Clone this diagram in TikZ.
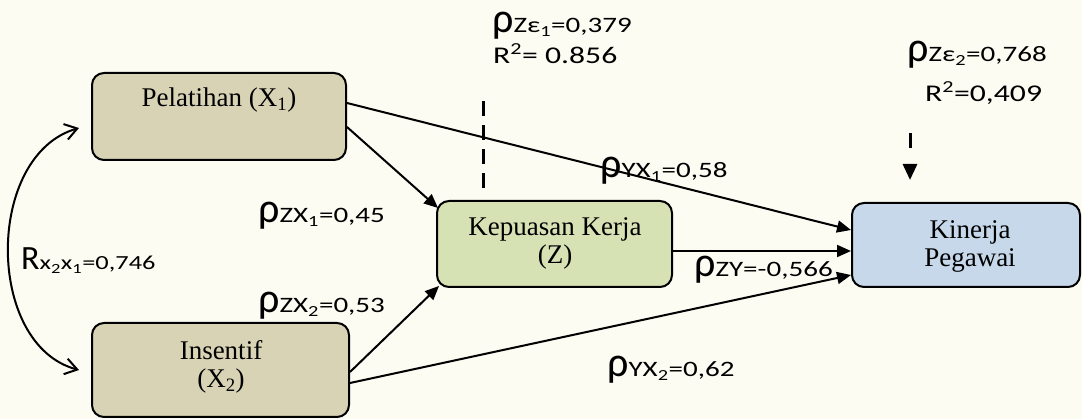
\documentclass[tikz,border=0pt]{standalone}
\usepackage{fontspec}
\setmainfont{Liberation Serif}
\newfontfamily\lblfont[FakeStretch=1.32]{Carlito}
\newfontfamily\grkfont{Carlito}
\usetikzlibrary{arrows.meta,calc}

\definecolor{bgcream}{RGB}{252,252,243}
\definecolor{tanbox}{RGB}{216,211,181}
\definecolor{olivebox}{RGB}{215,226,180}
\definecolor{bluebox}{RGB}{198,216,234}

% path coefficient: large rho followed by the index and value
\newcommand\rholabel[1]{{\grkfont\fontsize{42}{42}\selectfont ρ}{\lblfont\fontsize{22}{26}\selectfont #1}}

\begin{document}
\begin{tikzpicture}[x=1pt,y=-1pt,
  varbox/.style={draw=black, line width=2pt, rounded corners=12pt, inner sep=0pt},
  boxtext/.style={font=\fontsize{27}{28}\selectfont, inner sep=0pt, align=center},
  effect/.style={line width=2pt, -{Triangle[length=14pt,width=12pt]}},
  coef/.style={anchor=base west, inner sep=0pt},
  errline/.style={line width=3pt, dash pattern=on 15pt off 9pt},
]
\fill[bgcream] (0,0) rectangle (1082,419);
\useasboundingbox (0,0) rectangle (1082,419);

% variables
\node[varbox, fill=tanbox, minimum width=254pt, minimum height=87pt] (pel) at (219,116.5) {};
\node[varbox, fill=tanbox, minimum width=257pt, minimum height=94pt] (ins) at (220.5,370) {};
\node[varbox, fill=olivebox, minimum width=235pt, minimum height=86pt] (kep) at (554.5,244) {};
\node[varbox, fill=bluebox, minimum width=228pt, minimum height=84pt] (kin) at (966,245) {};

% names of the variables (two-line texts are placed by their last baseline)
\node[boxtext, anchor=base] (pelT) at (219,107) {Pelatihan (X\textsubscript{1})};
\node[boxtext, anchor=base] (insT) at (221,388) {Insentif\\(X\textsubscript{2})};
\node[boxtext, anchor=base] (kepT) at (555,264) {Kepuasan Kerja\\(Z)};
\node[boxtext, anchor=base] (kinT) at (970,267) {Kinerja\\Pegawai};

% direct and indirect effects
\draw[effect] ([yshift=13.5pt]pel.east) -- ([yshift=15pt]kin.west);
\draw[effect] ([yshift=-10.5pt]pel.east) -- ([shift={(2pt,-8pt)}]kep.north west);
\draw[effect] ([yshift=-2pt]ins.east) -- ([shift={(3pt,2pt)}]kep.south west);
\draw[effect] ([yshift=-13pt]ins.east) -- ([yshift=-30pt]kin.west);
\draw[effect] ([yshift=-7pt]kep.east) -- ([yshift=-6pt]kin.west);

% correlation between the exogenous variables
\coordinate (rTop) at ([shift={(-12pt,-11.5pt)}]pel.west);
\coordinate (rBot) at ([xshift=-12pt]ins.west);
\draw[line width=2pt, {Straight Barb[length=12pt,width=16pt]}-{Straight Barb[length=12pt,width=16pt]}]
  (rTop) .. controls (-15,155) and (-15,345) .. (rBot);

% residual terms
\coordinate (e1a) at (483,97);
\coordinate (e1b) at (483,188);
\draw[errline] (e1b) -- (e1a);
\coordinate (e2a) at (910,133);
\coordinate (e2b) at ([yshift=22pt]kin.north -| e2a);
\draw[errline, dash pattern=on 15pt off 16pt, -{Triangle[length=16pt,width=14pt]}] (e2a) -- (e2b);

% coefficients
\node[coef] (l1) at (258,223) {\rholabel{ZX\textsubscript{1}=0,45}};
\node[coef] (l2) at (258,313) {\rholabel{ZX\textsubscript{2}=0,53}};
\node[coef] (l3) at (600,178) {\rholabel{YX\textsubscript{1}=0,58}};
\node[coef] (l4) at (694,277) {\rholabel{ZY=-0,566}};
\node[coef] (l5) at (607,377) {\rholabel{YX\textsubscript{2}=0,62}};
\node[coef] (l6) at (492,33) {\rholabel{Zε\textsubscript{1}=0,379}};
\node[coef] (l7) at (493,64) {{\lblfont\fontsize{24}{24}\selectfont R\textsuperscript{2}= 0.856}};
\node[coef] (l8) at (907,62) {\rholabel{Zε\textsubscript{2}=0,768}};
\node[coef] (l9) at (925,102) {{\lblfont\fontsize{24}{24}\selectfont R\textsuperscript{2}=0,409}};
\node[coef] (l10) at (21,270) {{\grkfont\fontsize{34}{34}\selectfont R}{\lblfont\fontsize{20}{24}\selectfont x\textsubscript{2}x\textsubscript{1}=0,746}};
\end{tikzpicture}
\end{document}
